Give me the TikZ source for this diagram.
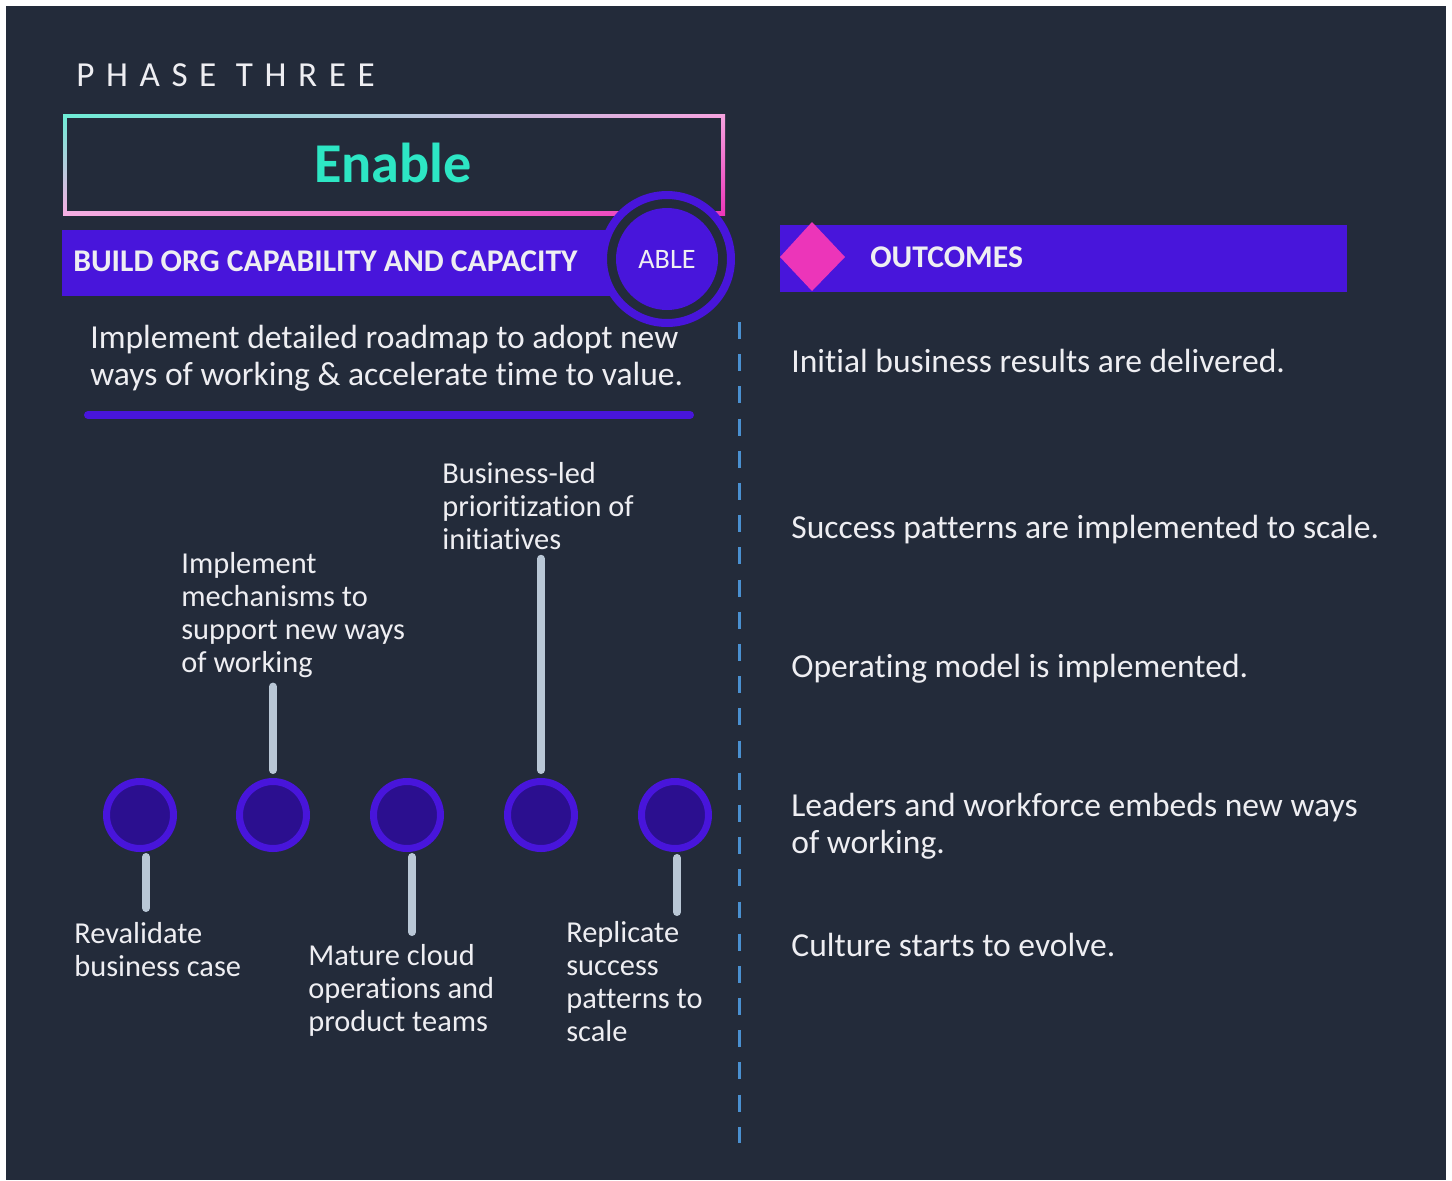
\documentclass[tikz,border=0pt]{standalone}
\usepackage{fontspec}
\setmainfont{Carlito}[Ligatures=NoCommon, RawFeature={-liga;-clig;-dlig}]
\usetikzlibrary{shapes.geometric, positioning, shadings}
\definecolor{navybg}{HTML}{232B3A}
\definecolor{awsviolet}{HTML}{4815DB}
\definecolor{deepviolet}{HTML}{2B0F8F}
\definecolor{softwhite}{HTML}{EEEEF2}
\definecolor{mint}{HTML}{2DE6C4}
\definecolor{stemgrey}{HTML}{B9C7D6}
\definecolor{dashblue}{HTML}{4A90D0}
\definecolor{hotpink}{HTML}{EC35B9}
\newcommand{\phasefont}{\fontsize{20pt}{24pt}\selectfont\addfontfeature{LetterSpace=33}}
\newcommand{\notefont}{\fontsize{17.3pt}{18.7pt}\selectfont}
\newcommand{\bodyfont}{\fontsize{19.1pt}{21pt}\selectfont}
\tikzstyle{milestone} = [
	circle,
	minimum size=1.34cm,
	line width=0.14cm,
	draw=awsviolet,
	fill=deepviolet
]
\tikzstyle{stem} = [
	line width=0.16cm,
	line cap=round,
	draw=stemgrey
]
\tikzstyle{stepnote} = [
	anchor=north west,
	inner sep=0pt,
	align=left,
	text=softwhite,
	font=\notefont
]
\tikzstyle{outcome} = [
	anchor=base west,
	inner sep=0pt,
	align=left,
	text=softwhite,
	font=\bodyfont
]
\tikzstyle{bartext} = [
	anchor=west,
	inner sep=0pt,
	text=softwhite,
	font=\fontsize{18pt}{21pt}\selectfont\bfseries
]
\begin{document}
\begin{tikzpicture}[x=0.02cm, y=-0.02cm]
        \useasboundingbox (0,0) rectangle (1452,1180);
        \fill[navybg] (6,6) rectangle (1446,1180);
        % title and gradient box
        \node (phase) [anchor=west, inner sep=0pt, text=softwhite] at (76,75) {\phasefont PHASE THREE};
        \shade[upper left=mint!70!white, upper right=hotpink!45!white,
          lower left=hotpink!40!white, lower right=hotpink] (63,114) rectangle (725,215);
        \fill[navybg] (67,118) rectangle (721,211);
        \node (enable) at (393,163) {\fontsize{32pt}{36pt}\selectfont\bfseries\color{mint}Enable};
        % capability bar
        \fill[awsviolet] (62,230) rectangle (645,296);
        \node (build) [bartext] at (73,261) {BUILD ORG CAPABILITY AND CAPACITY};
        \draw[awsviolet, fill=navybg, line width=0.16cm] (667,259) circle (1.28cm);
        \fill[awsviolet] (667,259) circle (1.02cm);
        \node (able) [text=softwhite, font=\fontsize{16pt}{18pt}\selectfont] at (667,259) {ABLE};
        \node (intro) [outcome] at (90,385) {Implement detailed roadmap to adopt new\\ways of working \& accelerate time to value.};
        \draw[awsviolet, line width=0.16cm, line cap=round] (88,415) -- (690,415);
        % divider
        \draw[dashblue, line width=0.06cm, dash pattern=on 0.34cm off 0.304cm] (739,322) -- (739,1143);
        % outcomes
        \fill[awsviolet] (780,225) rectangle (1347,292);
        \fill[hotpink] (780,257) -- (812,222) -- (845,257) -- (812,291) -- cycle;
        \node (outhead) [bartext] at (870,257) {OUTCOMES};
        \node (out1) [outcome] at (791,372) {Initial business results are delivered.};
        \node (out2) [outcome] at (791,538) {Success patterns are implemented to scale.};
        \node (out3) [outcome] at (791,677) {Operating model is implemented.};
        \node (out4) [outcome] at (791,853) {Leaders and workforce embeds new ways\\of working.};
        \node (out5) [outcome] at (791,956) {Culture starts to evolve.};
        % timeline
        \node (c1) [milestone] at (140,815) {};
        \node (c2) [milestone] at (273,815) {};
        \node (c3) [milestone] at (407,815) {};
        \node (c4) [milestone] at (541,815) {};
        \node (c5) [milestone] at (675,815) {};
        \node (l1) [stepnote] at (74,922) {Revalidate\\business case};
        \node (l2) [stepnote] at (181,552) {Implement\\mechanisms to\\support new ways\\of working};
        \node (l3) [stepnote] at (308,944) {Mature cloud\\operations and\\product teams};
        \node (l4) [stepnote] at (442,462) {Business-led\\prioritization of\\initiatives};
        \node (l5) [stepnote] at (566,921) {Replicate\\success\\patterns to\\scale};
        \draw[stem] ([shift={(6,5)}]c1.south) -- ([shift={(6,-14)}]c1.south |- l1.north);
        \draw[stem] ([shift={(0,-8)}]c2.north) -- ([shift={(0,9)}]c2.north |- l2.south);
        \draw[stem] ([shift={(5,5)}]c3.south) -- ([shift={(5,-12)}]c3.south |- l3.north);
        \draw[stem] ([shift={(0,-8)}]c4.north) -- ([shift={(0,9)}]c4.north |- l4.south);
        \draw[stem] ([shift={(2,6)}]c5.south) -- ([shift={(2,-9)}]c5.south |- l5.north);
      \end{tikzpicture}
\end{document}
